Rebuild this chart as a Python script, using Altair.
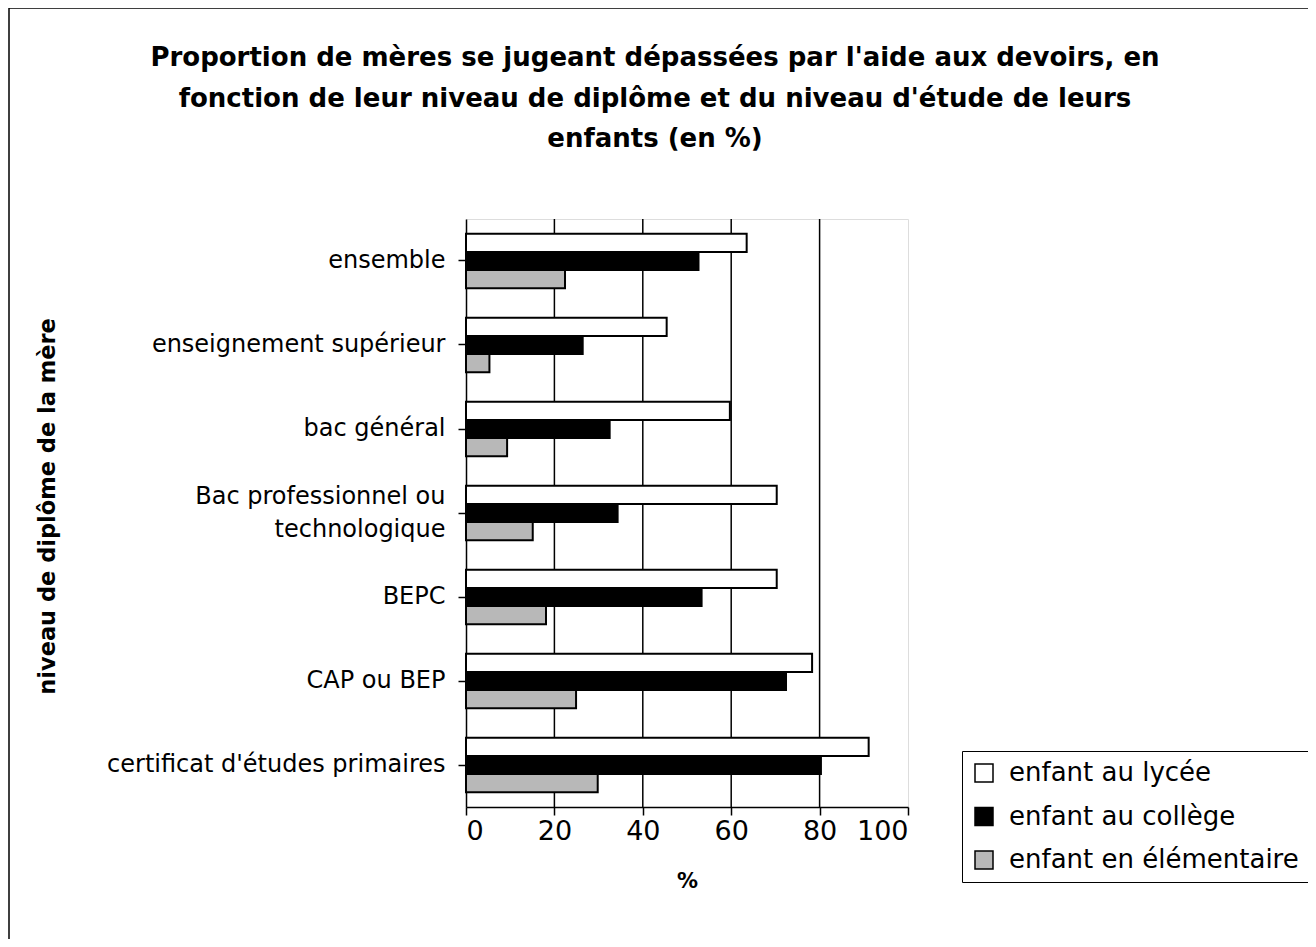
import altair as alt
import pandas as pd

categories = [
    "ensemble",
    "enseignement supérieur",
    "bac général",
    "Bac professionnel ou technologique",
    "BEPC",
    "CAP ou BEP",
    "certificat d'études primaires",
]
series = ["enfant au lycée", "enfant au collège", "enfant en élémentaire"]
lycee = [63.5, 45.4, 59.7, 70.3, 70.3, 78.3, 91.1]
college = [52.6, 26.4, 32.5, 34.3, 53.3, 72.4, 80.3]
elementaire = [22.4, 5.3, 9.3, 15.1, 18.1, 24.9, 29.8]
x_ticks = [0, 20, 40, 60, 80, 100]
grid_values = [20, 40, 60, 80]

rows = []
for s, vals in zip(series, [lycee, college, elementaire]):
    for c, v in zip(categories, vals):
        rows.append({"niveau": c, "serie": s, "valeur": v})
df = pd.DataFrame(rows)
grid_df = pd.DataFrame({"g": grid_values})

FONT = "DejaVu Sans"
TWO_LINE = "Bac professionnel ou technologique"

y_enc = alt.Y(
    "niveau:N",
    sort=categories,
    scale=alt.Scale(paddingInner=0.35, paddingOuter=0.175),
    axis=alt.Axis(
        title="niveau de diplôme de la mère",
        titleFontSize=22.5,
        titleFontWeight="bold",
        titleFont=FONT,
        titleColor="black",
        titleAngle=270,
        titleX=-419,
        titleY=287,
        titleAlign="center",
        titleBaseline="middle",
        labelFontSize=24,
        labelFont=FONT,
        labelColor="black",
        labelPadding=13,
        labelLimit=600,
        labelLineHeight=33,
        labelOffset={"condition": {"test": f"datum.value == '{TWO_LINE}'", "value": -16}, "value": 0},
        labelExpr=f"datum.label == '{TWO_LINE}' ? ['Bac professionnel ou', 'technologique'] : datum.label",
        tickSize=8,
        tickColor="black",
        tickWidth=1.5,
        domainColor="black",
        domainWidth=1.5,
    ),
)

x_enc = alt.X(
    "valeur:Q",
    scale=alt.Scale(domain=[0, 100], nice=False),
    axis=alt.Axis(
        values=x_ticks,
        title="%",
        titleFontSize=21,
        titleFontWeight="bold",
        titleFont=FONT,
        titleColor="black",
        titlePadding=26,
        labelFontSize=27,
        labelFont=FONT,
        labelColor="black",
        labelPadding=3,
        tickSize=8,
        tickColor="black",
        tickWidth=1.5,
        domainColor="black",
        domainWidth=1.5,
        grid=False,
    ),
)

grid = alt.Chart(grid_df).mark_rule(color="black", strokeWidth=1.5).encode(
    x=alt.X("g:Q", scale=alt.Scale(domain=[0, 100], nice=False))
)

bars = alt.Chart(df).mark_bar(stroke="black", strokeWidth=2).encode(
    y=y_enc,
    x=x_enc,
    yOffset=alt.YOffset("serie:N", sort=series),
    fill=alt.Fill(
        "serie:N",
        sort=series,
        scale=alt.Scale(domain=series, range=["white", "black", "#b8b8b8"]),
        legend=alt.Legend(
            title=None,
            orient="none",
            legendX=496,
            legendY=532,
            strokeColor="black",
            fillColor="white",
            padding=9,
            labelFontSize=26,
            labelFont=FONT,
            labelColor="black",
            labelOffset=12,
            labelLimit=600,
            symbolType="square",
            symbolSize=324,
            symbolStrokeColor="black",
            symbolStrokeWidth=1.5,
            rowPadding=17.5,
        ),
    ),
)

frame = alt.Chart(pd.DataFrame({"a": [0]})).mark_rect(
    fillOpacity=0, stroke="black", strokeWidth=1.5
).encode(
    x=alt.value(-457), x2=alt.value(1000), y=alt.value(-211), y2=alt.value(900)
)

chart = alt.layer(grid, bars, frame).properties(
    width=442,
    height=588,
    padding={"left": 458, "top": 211, "right": 400, "bottom": 132},
    autosize=alt.AutoSizeParams(type="none"),
    title=alt.TitleParams(
        text=[
            "Proportion de mères se jugeant dépassées par l'aide aux devoirs, en",
            "fonction de leur niveau de diplôme et du niveau d'étude de leurs",
            "enfants (en %)",
        ],
        fontSize=26,
        font=FONT,
        fontWeight="bold",
        color="black",
        anchor="middle",
        frame="group",
        dx=-32,
        offset=-145,
        lineHeight=40.5,
    ),
).configure_view(stroke=None).configure(background="white")

chart.save("out.html", embed_options={"renderer": "svg", "actions": False})
